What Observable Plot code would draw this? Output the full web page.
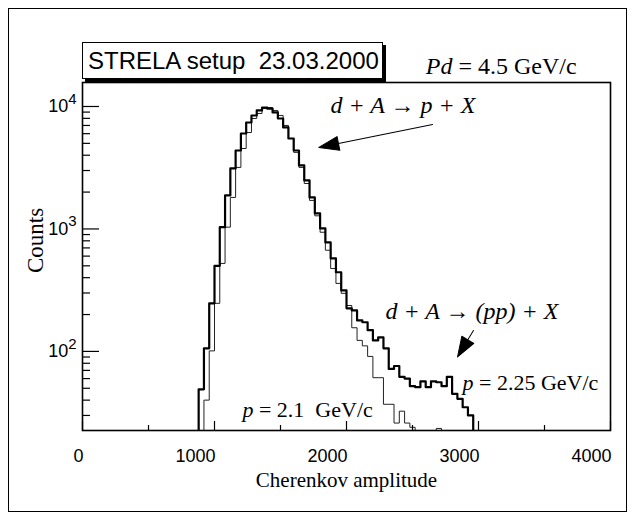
<!DOCTYPE html>
<html><head><meta charset="utf-8">
<script src="https://cdn.jsdelivr.net/npm/d3@7"></script>
<script src="https://cdn.jsdelivr.net/npm/@observablehq/plot@0.6"></script>
<style>
body{margin:0;background:#fff;}
#wrap{position:relative;width:635px;height:520px;}
#border{position:absolute;left:8px;top:8px;width:619px;height:504px;border:1px solid #000;box-sizing:border-box;pointer-events:none;}
#title{position:absolute;left:82px;top:42px;width:301px;height:37px;border:1px solid #000;box-shadow:3px 3px 0 #000;box-sizing:border-box;background:#fff;
  font-family:"Liberation Sans",Arial,sans-serif;font-size:24px;line-height:35px;padding-left:5px;white-space:pre;color:#000;}
svg{position:absolute;left:0;top:0;}
</style></head>
<body><div id="wrap"><div id="border"></div><div id="title">STRELA setup  23.03.2000</div></div>
<script>
// Histogram 1: p = 2.25 GeV/c (thick)
const thickStart = 880, binWidth = 40;
const thickCounts = [49,106,247,500,1034,1880,3120,4370,6020,7400,8440,9280,9800,9600,8940,7980,6740,5480,4370,3300,2490,1810,1340,1010,776,574,443,315,225,216,179,173,149,123,130,106,72,76,62,60,52,51,57,51,57,56,52,62,45,41,35,30];
// Histogram 2: p = 2.1 GeV/c (thin)
const thinStart = 920;
const thinCounts = [40,101,247,523,1034,1808,3180,4540,6130,7980,8770,9630,9810,9280,8450,7000,5480,4220,3180,2350,1710,1280,940,670,475,359,298,237,156,123,111,91,61,61,37,37,26,32.5,26,24,12,12,12,12,23.5,12];

const xTicksMajor = [0,1000,2000,3000,4000];
const xTicksMinor = [500,1500,2500,3500];
const yTicksMajor = [100,1000,10000];
const yTicksMinor = [30,40,50,60,70,80,90,200,300,400,500,600,700,800,900,2000,3000,4000,5000,6000,7000,8000,9000];
const yDomain = [22.6, 15700];

function steps(start, counts) {
  const pts = [{x: start, y: yDomain[0]}];
  counts.forEach((c, i) => pts.push({x: start + i * binWidth, y: c}));
  pts.push({x: start + counts.length * binWidth, y: yDomain[0]});
  return pts;
}
const thick = steps(thickStart, thickCounts);
const thin = steps(thinStart, thinCounts);

const serif = "Liberation Serif, Times New Roman, serif";
const sans = "Liberation Sans, Arial, sans-serif";

const arrowShape = {draw(ctx, l) {
  const h = 20, w = 7;
  ctx.moveTo(0, 0); ctx.lineTo(0, -(l - h));
  ctx.moveTo(0, -l); ctx.lineTo(-w, -(l - h)); ctx.lineTo(w, -(l - h)); ctx.closePath();
}};

const chart = Plot.plot({
  width: 635, height: 520,
  marginTop: 82, marginLeft: 82, marginRight: 25, marginBottom: 90,
  x: {domain: [0, 4000]},
  y: {type: "log", domain: yDomain},
  marks: [
    Plot.line(thin, {x: "x", y: "y", curve: "step-after", stroke: "#222", strokeWidth: 1, clip: true}),
    Plot.line(thick, {x: "x", y: "y", curve: "step-after", stroke: "#000", strokeWidth: 2.2, clip: true}),
    Plot.axisX(xTicksMajor, {tickSize: -9, text: null, strokeWidth: 1.2, label: null}),
    Plot.axisX(xTicksMinor, {tickSize: -5, text: null, strokeWidth: 1.2, label: null}),
    Plot.axisX(xTicksMajor, {tickSize: 0, tickPadding: 19, textAnchor: "end", dx: 1, fontSize: 18, fontFamily: sans, tickFormat: d => String(d), label: null}),
    Plot.axisY(yTicksMajor, {tickSize: -17, text: null, strokeWidth: 1.2, label: null}),
    Plot.axisY(yTicksMinor, {tickSize: -8, text: null, strokeWidth: 1.2, label: null}),
    Plot.axisY(yTicksMajor, {tickSize: 0, tickPadding: 6, fontSize: 18, fontFamily: sans, tickFormat: d => "10^" + Math.round(Math.log10(d)), label: null}),
    Plot.frame({stroke: "#000", strokeWidth: 1.6}),
    Plot.text([{x: -356, y: 805}], {x: "x", y: "y", text: () => "Counts", rotate: -90, fontSize: 23, fontFamily: serif, fill: "#000"}),
    Plot.text(["Cherenkov amplitude"], {frameAnchor: "bottom", dy: 56, fontSize: 21, fontFamily: serif, fill: "#000"}),
    Plot.text([{x: 2803, y: 21200}], {x: "x", y: "y", text: () => "Pd", textAnchor: "end", fontSize: 24, fontStyle: "italic", fontFamily: serif, fill: "#000"}),
    Plot.text([{x: 2803, y: 21200}], {x: "x", y: "y", text: () => " = 4.5 GeV/c", textAnchor: "start", fontSize: 24, fontFamily: serif, fill: "#000"}),
    Plot.text([{x: 1879, y: 10190}], {x: "x", y: "y", text: () => "d + A → p + X", textAnchor: "start", fontSize: 24, fontStyle: "italic", fontFamily: serif, fill: "#000"}),
    Plot.text([{x: 2296, y: 212}], {x: "x", y: "y", text: () => "d + A → (pp) + X", textAnchor: "start", fontSize: 24, fontStyle: "italic", fontFamily: serif, fill: "#000"}),
    Plot.text([{x: 2962, y: 54.8}], {x: "x", y: "y", text: () => "p", textAnchor: "end", fontSize: 22, fontStyle: "italic", fontFamily: serif, fill: "#000"}),
    Plot.text([{x: 2962, y: 54.8}], {x: "x", y: "y", text: () => " = 2.25 GeV/c", textAnchor: "start", fontSize: 22, fontFamily: serif, fill: "#000"}),
    Plot.text([{x: 1295, y: 33}], {x: "x", y: "y", text: () => "p", textAnchor: "end", fontSize: 22, fontStyle: "italic", fontFamily: serif, fill: "#000"}),
    Plot.text([{x: 1295, y: 33}], {x: "x", y: "y", text: () => " = 2.1  GeV/c", textAnchor: "start", fontSize: 22, fontFamily: serif, fill: "#000"}),
    Plot.vector([{x: 2652, y: 7130}], {x: "x", y: "y", length: 116, rotate: 258.6, anchor: "start", shape: arrowShape, stroke: "#000", fill: "#000", strokeWidth: 1}),
    Plot.vector([{x: 2962, y: 148.4}], {x: "x", y: "y", length: 31, rotate: 211, anchor: "start", shape: arrowShape, stroke: "#000", fill: "#000", strokeWidth: 1})
  ]
});
// superscript exponents for the log axis labels
d3.select(chart).selectAll("text").each(function() {
  const t = d3.select(this);
  const s = t.text();
  const m = /^10\^(\d)$/.exec(s);
  if (m) {
    t.text("10");
    t.append("tspan").attr("dy", "-0.55em").attr("font-size", 15).text(m[1]);
  }
});
d3.select(chart).selectAll("text").style("white-space", "pre").attr("xml:space", "preserve");
document.getElementById("wrap").insertBefore(chart, document.getElementById("title"));
</script>
</body></html>
